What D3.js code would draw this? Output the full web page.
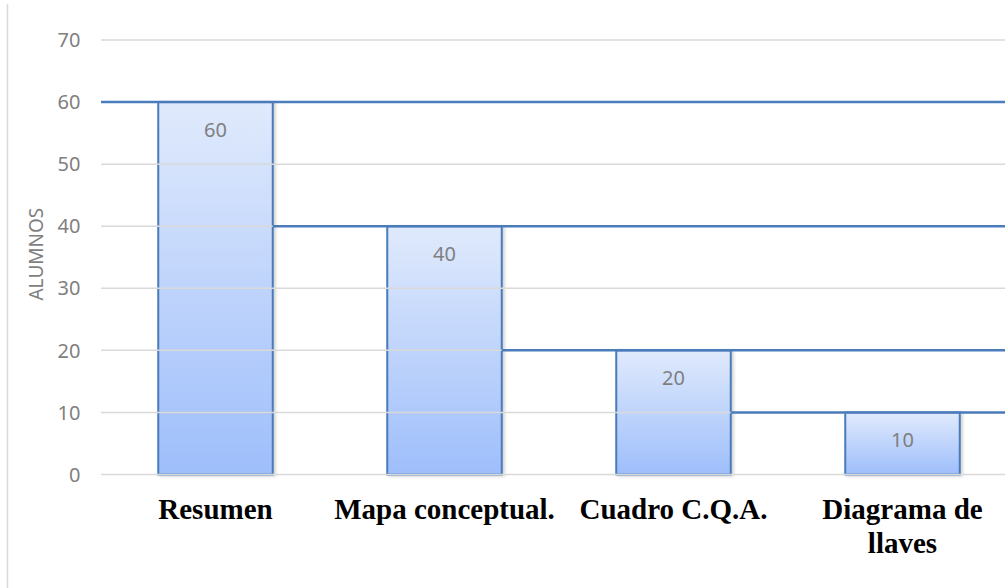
<!DOCTYPE html>
<html>
<head>
<meta charset="utf-8">
<script src="https://cdn.jsdelivr.net/npm/d3@7"></script>
<style>
  body { margin: 0; background: #fff; }
  svg { display: block; }
</style>
</head>
<body>
<div id="chart"></div>
<script>
// data
var categories = ["Resumen", "Mapa conceptual.", "Cuadro C.Q.A.", "Diagrama de|llaves"];
var values = [60, 40, 20, 10];
var yTicks = [0, 10, 20, 30, 40, 50, 60, 70];

var width = 1005, height = 588;
var plotLeft = 101, plotRight = 1017, plotTop = 40, plotBottom = 474.5;

var svg = d3.select("#chart").append("svg")
	.attr("width", width)
	.attr("height", height);

var defs = svg.append("defs");
var grad = defs.append("linearGradient")
	.attr("id", "barGrad")
	.attr("x1", 0).attr("y1", 0).attr("x2", 0).attr("y2", 1);
grad.append("stop").attr("offset", "0%").attr("stop-color", "#e0eafc");
grad.append("stop").attr("offset", "100%").attr("stop-color", "#9ebefb");

var shadow = defs.append("filter").attr("id", "shadow")
	.attr("x", "-10%").attr("y", "-10%").attr("width", "130%").attr("height", "130%");
shadow.append("feDropShadow")
	.attr("dx", 2).attr("dy", 1).attr("stdDeviation", 1.5)
	.attr("flood-color", "#000").attr("flood-opacity", 0.18);

// chart area border (left edge)
svg.append("line")
	.attr("x1", 7.5).attr("x2", 7.5)
	.attr("y1", 4).attr("y2", height)
	.attr("stroke", "#d9d9d9").attr("stroke-width", 1.5);

var x = d3.scaleBand()
	.domain(categories)
	.range([plotLeft, plotRight])
	.paddingInner(0.5)
	.paddingOuter(0.25);

var y = d3.scaleLinear()
	.domain([0, 70])
	.range([plotBottom, plotTop]);

// bars
svg.append("g")
	.selectAll("rect")
	.data(values)
	.enter().append("rect")
		.attr("x", function(d, i) { return x(categories[i]); })
		.attr("y", function(d) { return y(d); })
		.attr("width", x.bandwidth())
		.attr("height", function(d) { return y(0) - y(d); })
		.attr("fill", "url(#barGrad)")
		.attr("stroke", "#4a7bbb")
		.attr("stroke-width", 2)
		.attr("filter", "url(#shadow)");

// gridlines drawn over the bars, like the reference
var grid = svg.append("g");
grid.selectAll("line")
	.data(yTicks)
	.enter().append("line")
		.attr("x1", plotLeft).attr("x2", width)
		.attr("y1", function(d) { return y(d); })
		.attr("y2", function(d) { return y(d); })
		.attr("stroke", "#d9d9d9")
		.attr("stroke-width", 1.5);

// step lines: from previous bar's right edge (or plot left) to the right side
svg.append("g")
	.selectAll("line")
	.data(values)
	.enter().append("line")
		.attr("x1", function(d, i) { return i == 0 ? plotLeft : x(categories[i - 1]) + x.bandwidth(); })
		.attr("x2", width)
		.attr("y1", function(d) { return y(d); })
		.attr("y2", function(d) { return y(d); })
		.attr("stroke", "#4a7bbb")
		.attr("stroke-width", 2.5);

// y tick labels
svg.append("g")
	.selectAll("text")
	.data(yTicks)
	.enter().append("text")
		.attr("x", 80.5)
		.attr("y", function(d) { return y(d); })
		.attr("dy", "0.36em")
		.attr("text-anchor", "end")
		.attr("font-family", "'Noto Sans', 'Open Sans', sans-serif")
		.attr("font-size", 20)
		.attr("fill", "#7f7f7f")
		.text(function(d) { return d; });

// y axis title
svg.append("text")
	.attr("transform", "translate(36," + y(35.5) + ") rotate(-90)")
	.attr("dy", "0.36em")
	.attr("text-anchor", "middle")
	.attr("font-family", "'Noto Sans', 'Open Sans', sans-serif")
	.attr("font-size", 19)
	.attr("fill", "#7f7f7f")
	.text("ALUMNOS");

// value labels
svg.append("g")
	.selectAll("text")
	.data(values)
	.enter().append("text")
		.attr("x", function(d, i) { return x(categories[i]) + x.bandwidth() / 2; })
		.attr("y", function(d) { return y(d) + 27.5; })
		.attr("dy", "0.36em")
		.attr("text-anchor", "middle")
		.attr("font-family", "'Noto Sans', 'Open Sans', sans-serif")
		.attr("font-size", 20)
		.attr("fill", "#7f7f7f")
		.text(function(d) { return d; });

// category labels
var cat = svg.append("g")
	.selectAll("text")
	.data(categories)
	.enter().append("text")
		.attr("x", function(d) { return x(d) + x.bandwidth() / 2; })
		.attr("y", 519)
		.attr("text-anchor", "middle")
		.attr("font-family", "'Liberation Serif', 'Times New Roman', serif")
		.attr("font-weight", "bold")
		.attr("font-size", 29)
		.attr("fill", "#000");

cat.each(function(d) {
	var self = d3.select(this);
	var cx = self.attr("x");
	d.split("|").forEach(function(part, k) {
		self.append("tspan")
			.attr("x", cx)
			.attr("dy", k == 0 ? 0 : 33.5)
			.text(part);
	});
});
</script>
</body>
</html>
